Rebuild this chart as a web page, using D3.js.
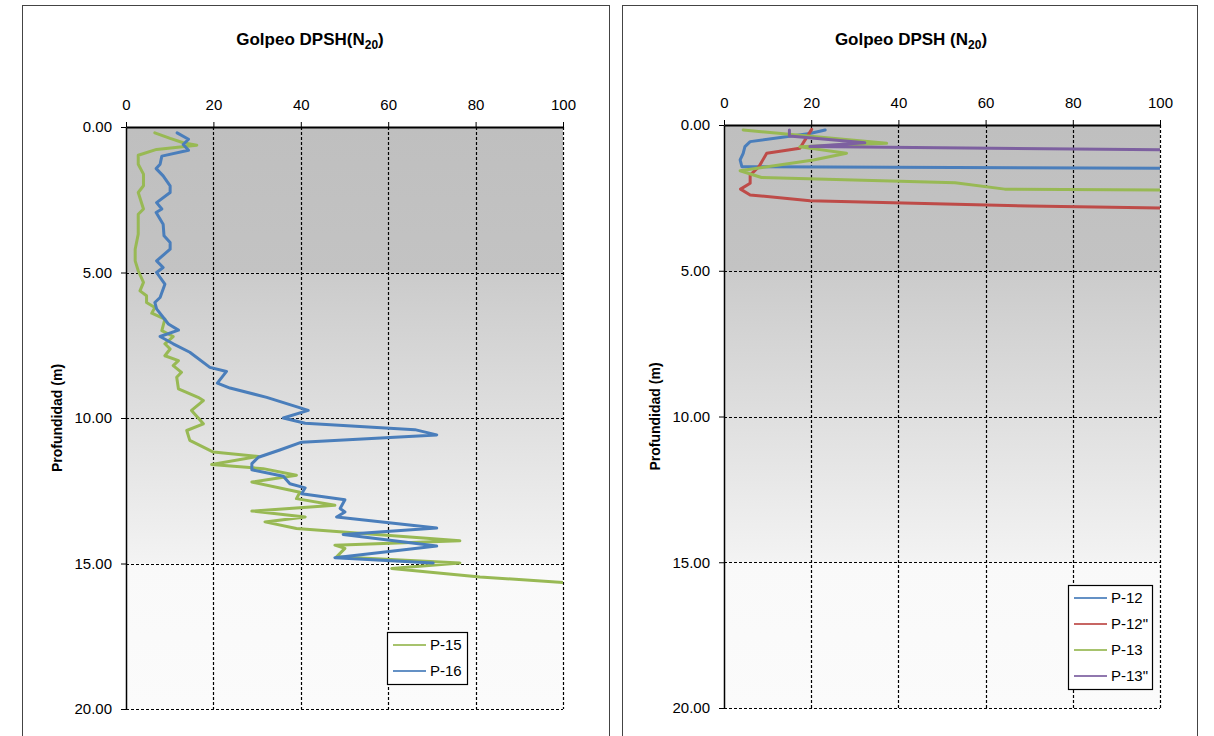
<!DOCTYPE html>
<html>
<head>
<meta charset="utf-8">
<script src="https://cdn.jsdelivr.net/npm/d3@7"></script>
<style>
  body { margin: 0; background: #fff; }
  svg text { font-family: "Liberation Sans", Arial, Helvetica, sans-serif; fill: #000; }
</style>
</head>
<body>
<div id="chart"></div>
<script>
// ---- data (depth in m, N20 blows) ----
var p15Depth = [0.2,0.39,0.54,0.63,0.77,0.97,1.28,1.62,2.02,2.25,2.82,3.0,3.68,4.2,4.6,4.94,5.34,5.63,5.8,6.03,6.2,6.4,6.6,7.0,7.2,7.45,7.63,7.86,8.03,8.2,8.43,8.6,9.0,9.29,9.4,9.74,10.2,10.43,10.77,11.17,11.32,11.6,11.74,11.97,12.2,12.55,12.77,13.0,13.2,13.4,13.57,13.8,14.22,14.37,14.48,14.77,14.98,15.17,15.46,15.65]
var p15Blows = [6.6,10.1,13.1,16.2,7.0,2.8,2.8,4.0,4.0,2.8,4.0,2.8,2.8,2.1,2.1,2.8,4.0,3.2,4.7,4.7,6.6,5.9,8.9,8.2,10.8,8.9,10.1,8.9,12.0,10.8,12.7,11.6,12.0,16.5,17.7,15.0,17.7,13.9,14.6,20.0,30.3,19.6,31.4,39.0,28.8,39.8,39.0,47.8,28.8,41.0,31.8,39.0,76.4,47.8,50.1,48.2,76.4,60.8,81.0,100]

var p16Depth = [0.2,0.42,0.6,0.8,1.0,1.28,1.43,1.68,2.02,2.25,2.6,2.82,2.94,3.34,3.74,3.97,4.2,4.6,4.83,5.0,5.4,5.86,6.03,6.25,6.77,6.98,7.2,7.45,7.74,8.26,8.4,8.8,8.97,9.29,9.74,10.0,10.18,10.4,10.58,10.83,11.1,11.35,11.57,11.78,12.0,12.26,12.4,12.6,12.81,13.11,13.23,13.4,13.78,14.0,14.4,14.8,14.98]
var p16Blows = [11.7,14.3,13.1,14.3,8.2,7.8,6.9,8.5,10.1,10.1,7.0,8.2,6.9,8.5,8.7,10.1,10.1,7.0,8.5,7.0,8.9,7.8,6.6,7.0,9.7,12.0,7.8,10.8,14.6,19.2,23.0,20.9,23.8,32.2,41.7,36.0,41.0,66.1,71.1,40.2,35.2,30.3,28.8,28.8,36.0,37.5,41.0,40.2,50.1,49.0,50.1,48.2,71.1,49.7,71.1,47.8,70.3]

var p12Depth = [0.17,0.29,0.57,0.74,0.97,1.2,1.43,1.48]
var p12Blows = [23.2,19.7,6.0,4.8,4.4,3.7,4.1,100]

var p12bDepth = [0.15,0.51,0.8,0.97,1.43,1.72,2.0,2.2,2.4,2.6,2.78,2.85]
var p12bBlows = [20.1,18.6,17.4,9.8,8.0,6.0,6.0,3.8,6.0,19.7,70,100]

var p13Depth = [0.17,0.63,0.75,0.97,1.2,1.57,1.8,1.98,2.2,2.23]
var p13Blows = [4.4,37.3,17.4,28.1,20.5,3.7,8.6,53,64.4,100]

var p13bDepth = [0.17,0.38,0.61,0.74,0.85]
var p13bBlows = [15.0,15.0,32.3,19.7,100]

var xTicks = [0, 20, 40, 60, 80, 100]
var yTicks = [0, 5, 10, 15, 20]

var blue = "#4a7ebb", green = "#98b954", red = "#be4b48", purple = "#7d60a0"

function zip(depths, blows) {
  return depths.map(function (d, i) { return { depth: d, n: blows[i] } })
}

var svg = d3.select("#chart").append("svg")
  .attr("width", 1214)
  .attr("height", 736)

var defs = svg.append("defs")
var grad = defs.append("linearGradient")
  .attr("id", "bg")
  .attr("x1", 0).attr("y1", 0).attr("x2", 0).attr("y2", 1)
var stops = [[0, "#bfbfbf"], [0.25, "#c3c3c3"], [0.25, "#cbcbcb"], [0.5, "#dfdfdf"], [0.75, "#f3f3f3"], [0.75, "#f9f9f9"], [1, "#fbfbfb"]]
stops.forEach(function (s) {
  grad.append("stop").attr("offset", s[0]).attr("stop-color", s[1])
})

function panel(cfg) {
  // outer frame of the chart object
  svg.append("rect")
    .attr("x", cfg.frame[0] + 0.5).attr("y", 5.5)
    .attr("width", cfg.frame[1] - cfg.frame[0]).attr("height", 760)
    .attr("fill", "none").attr("stroke", "#444").attr("stroke-width", 1)

  var x = d3.scaleLinear().domain([0, 100]).range([cfg.left, cfg.right])
  var y = d3.scaleLinear().domain([0, 20]).range([cfg.top, cfg.bottom])

  var g = svg.append("g")

  g.append("rect")
    .attr("x", cfg.left).attr("y", cfg.top)
    .attr("width", cfg.right - cfg.left).attr("height", cfg.bottom - cfg.top)
    .attr("fill", "url(#bg)")

  // dashed grid
  g.selectAll(".vgrid").data(xTicks.slice(1)).enter().append("line")
    .attr("x1", function (d) { return Math.round(x(d)) + 0.5 })
    .attr("x2", function (d) { return Math.round(x(d)) + 0.5 })
    .attr("y1", cfg.top).attr("y2", cfg.bottom)
    .attr("stroke", "#000").attr("stroke-width", 1.2).attr("stroke-dasharray", "3,2")
  g.selectAll(".hgrid").data(yTicks.slice(1)).enter().append("line")
    .attr("y1", function (d) { return Math.round(y(d)) + 0.5 })
    .attr("y2", function (d) { return Math.round(y(d)) + 0.5 })
    .attr("x1", cfg.left).attr("x2", cfg.right)
    .attr("stroke", "#000").attr("stroke-width", 1.2).attr("stroke-dasharray", "3,2")

  var clipId = "clip" + cfg.id
  defs.append("clipPath").attr("id", clipId).append("rect")
    .attr("x", cfg.left).attr("y", cfg.top)
    .attr("width", cfg.right - cfg.left).attr("height", cfg.bottom - cfg.top)

  var line = d3.line()
    .x(function (d) { return x(d.n) })
    .y(function (d) { return y(d.depth) })

  g.append("g").attr("clip-path", "url(#" + clipId + ")")
    .selectAll("path").data(cfg.series).enter().append("path")
    .attr("d", function (s) { return line(s.values) })
    .attr("fill", "none")
    .attr("stroke", function (s) { return s.color })
    .attr("stroke-width", 3)
    .attr("stroke-linejoin", "round")
    .attr("stroke-linecap", "round")

  // axes
  var xAxis = d3.axisTop(x).tickValues(xTicks).tickSize(5).tickSizeOuter(0)
    .tickFormat(d3.format("d"))
  var ax = g.append("g")
    .attr("transform", "translate(0," + cfg.top + ")")
    .call(xAxis)
  ax.select(".domain").attr("stroke-width", 2)
  ax.selectAll("text").attr("font-size", 15).attr("dy", "-0.6em")
    .style("font-family", "Liberation Sans, Arial, sans-serif")

  var yAxis = d3.axisLeft(y).tickValues(yTicks).tickSize(5).tickSizeOuter(0)
    .tickFormat(d3.format(".2f"))
  var ay = g.append("g")
    .attr("transform", "translate(" + cfg.left + ",0)")
    .call(yAxis)
  ay.select(".domain").attr("stroke-width", 1.5)
  ay.selectAll("text").attr("font-size", 15).attr("x", -14)
    .style("font-family", "Liberation Sans, Arial, sans-serif")

  // title with subscript
  var t = svg.append("text")
    .attr("x", cfg.titleX).attr("y", 45)
    .attr("text-anchor", "middle")
    .attr("font-size", 17).attr("font-weight", "bold")
  t.append("tspan").text(cfg.title)
  t.append("tspan").text("20").attr("font-size", 12).attr("dy", 4)
  t.append("tspan").text(")").attr("dy", -4)

  svg.append("text")
    .attr("transform", "translate(" + cfg.yLabelX + "," + (cfg.top + cfg.bottom) / 2 + ") rotate(-90)")
    .attr("text-anchor", "middle")
    .attr("font-size", 14).attr("font-weight", "bold")
    .text("Profundidad (m)")

  // legend
  var lg = svg.append("g")
  lg.append("rect")
    .attr("x", cfg.legend[0] + 0.5).attr("y", cfg.legend[1] + 0.5)
    .attr("width", cfg.legend[2]).attr("height", cfg.series.length * 26 + 0)
    .attr("fill", "#fff").attr("stroke", "#000").attr("stroke-width", 1.2)
  cfg.series.forEach(function (s, i) {
    var yy = cfg.legend[1] + 13 + i * 26
    lg.append("line")
      .attr("x1", cfg.legend[0] + 6).attr("x2", cfg.legend[0] + 39)
      .attr("y1", yy).attr("y2", yy)
      .attr("stroke", s.color).attr("stroke-width", 2).attr("opacity", 0.85)
    lg.append("text")
      .attr("x", cfg.legend[0] + 43).attr("y", yy + 5)
      .attr("font-size", 15)
      .text(s.name)
  })
}

panel({
  id: "a",
  frame: [22, 609],
  left: 126, right: 563, top: 127, bottom: 709,
  title: "Golpeo DPSH(N",
  titleX: 310,
  yLabelX: 62,
  legend: [387, 632, 80],
  series: [
    { name: "P-15", color: green, values: zip(p15Depth, p15Blows) },
    { name: "P-16", color: blue, values: zip(p16Depth, p16Blows) }
  ]
})

panel({
  id: "b",
  frame: [622, 1197],
  left: 724, right: 1160, top: 125, bottom: 708,
  title: "Golpeo DPSH (N",
  titleX: 911,
  yLabelX: 660,
  legend: [1068, 585, 84],
  series: [
    { name: "P-12", color: blue, values: zip(p12Depth, p12Blows) },
    { name: "P-12\"", color: red, values: zip(p12bDepth, p12bBlows) },
    { name: "P-13", color: green, values: zip(p13Depth, p13Blows) },
    { name: "P-13\"", color: purple, values: zip(p13bDepth, p13bBlows) }
  ]
})
</script>
</body>
</html>
